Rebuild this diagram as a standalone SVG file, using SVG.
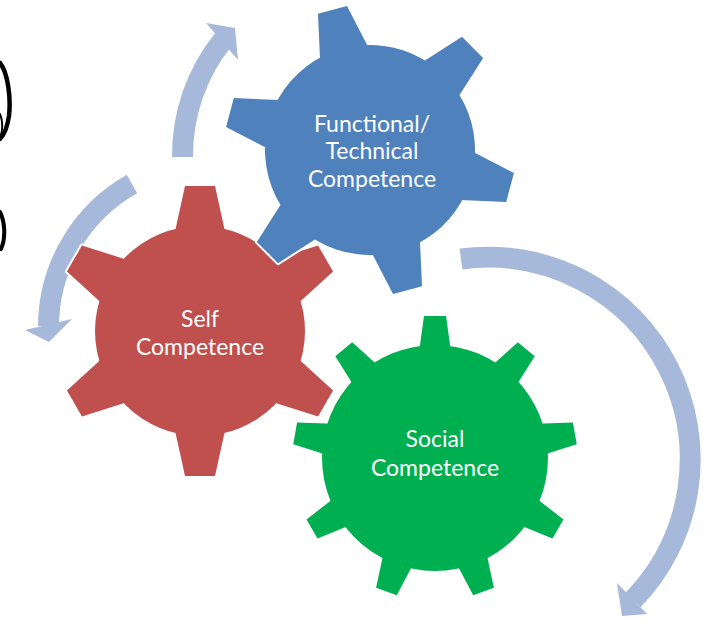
<svg xmlns="http://www.w3.org/2000/svg" xmlns:xlink="http://www.w3.org/1999/xlink" width="710" height="620" viewBox="0 0 710 620">
  <style>
    .halo { fill: #FFFFFF; stroke: #FFFFFF; stroke-width: 4; stroke-linejoin: round; }
    .label { font-family: Lato, "Open Sans", "Liberation Sans", sans-serif; font-size: 23px; fill: #FFFFFF; text-anchor: middle; }
    .shaft { fill: none; stroke: #A7B9DA; stroke-width: 21; stroke-linecap: butt; }
    .head { fill: #A7B9DA; }
    .ink { fill: none; stroke: #000000; stroke-linecap: round; }
  </style>
  <defs>
    <!-- six-tooth gear, tooth pointing up -->
    <polygon id="tooth6" points="-26,-95 -15,-145 15,-145 26,-95"/>
    <g id="gear6">
      <circle r="105"/>
      <use xlink:href="#tooth6"/>
      <use xlink:href="#tooth6" transform="rotate(60)"/>
      <use xlink:href="#tooth6" transform="rotate(120)"/>
      <use xlink:href="#tooth6" transform="rotate(180)"/>
      <use xlink:href="#tooth6" transform="rotate(240)"/>
      <use xlink:href="#tooth6" transform="rotate(300)"/>
    </g>
    <!-- nine-tooth gear, tooth pointing up -->
    <polygon id="tooth9" points="-16,-106 -11,-142 11,-142 16,-106"/>
    <g id="gear9">
      <circle r="113"/>
      <use xlink:href="#tooth9"/>
      <use xlink:href="#tooth9" transform="rotate(40)"/>
      <use xlink:href="#tooth9" transform="rotate(80)"/>
      <use xlink:href="#tooth9" transform="rotate(120)"/>
      <use xlink:href="#tooth9" transform="rotate(160)"/>
      <use xlink:href="#tooth9" transform="rotate(200)"/>
      <use xlink:href="#tooth9" transform="rotate(240)"/>
      <use xlink:href="#tooth9" transform="rotate(280)"/>
      <use xlink:href="#tooth9" transform="rotate(320)"/>
    </g>
  </defs>

  <rect width="710" height="620" fill="#FFFFFF"/>

  <!-- ink strokes at the left edge -->
  <g id="edge-marks">
    <path class="ink" stroke-width="4.5" d="M0,63 C8,73 11,98 9,116 C7,129 4,135 0,139"/>
    <path class="ink" stroke-width="2" d="M0,114 C3,121 3,131 0,137"/>
    <path class="ink" stroke-width="4" d="M0,212 C5,222 6,238 1,249"/>
  </g>

  <!-- circular arrows -->
  <g id="connectors">
    <path class="shaft" d="M182.5,157 A185,185 0 0 1 223,40"/>
    <polygon class="head" points="206,23 235,28 238,60"/>
    <path class="shaft" d="M132,184 A164,164 0 0 0 48.5,326"/>
    <polygon class="head" points="25,330 49,342 72,319"/>
    <path class="shaft" d="M461,259 A202,202 0 0 1 633,600"/>
    <polygon class="head" points="617,583 622,616 647,614"/>
  </g>

  <g id="self-competence">
    <use xlink:href="#gear6" class="halo" transform="translate(200,331)"/>
    <use xlink:href="#gear6" fill="#C0504D" transform="translate(200,331)"/>
    <text class="label" x="200" y="327">Self</text>
    <text class="label" x="200" y="355">Competence</text>
  </g>

  <g id="functional-technical-competence">
    <use xlink:href="#gear6" class="halo" transform="translate(370,150) rotate(-15)"/>
    <use xlink:href="#gear6" fill="#4F81BD" transform="translate(370,150) rotate(-15)"/>
    <text class="label" x="372" y="132">Functional/</text>
    <text class="label" x="372" y="159">Technical</text>
    <text class="label" x="372" y="187">Competence</text>
  </g>

  <g id="social-competence">
    <use xlink:href="#gear9" class="halo" transform="translate(435,458)"/>
    <use xlink:href="#gear9" fill="#00B050" transform="translate(435,458)"/>
    <text class="label" x="435" y="447">Social</text>
    <text class="label" x="435" y="476">Competence</text>
  </g>
</svg>
